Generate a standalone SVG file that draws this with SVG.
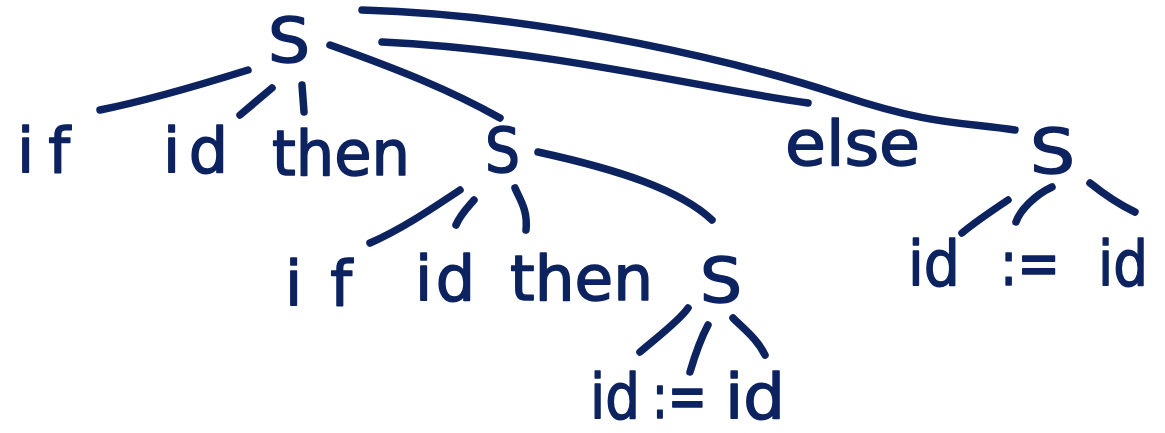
<svg xmlns="http://www.w3.org/2000/svg" width="1165" height="433" viewBox="0 0 1165 433">
<style>
.e{fill:none;stroke:#0d2360;stroke-width:7.5;stroke-linecap:round;stroke-linejoin:round}
.t{font-family:"DejaVu Sans","Liberation Sans",sans-serif;fill:#0d2360;stroke:#0d2360;stroke-width:1.5;stroke-linejoin:round;font-size:62px}
</style>
<rect width="1165" height="433" fill="#fff"/>
<g id="connectors">
<path class="e" d="M100,110 C150,100 200,85 248,70"/>
<path class="e" d="M240,115 L272,88"/>
<path class="e" d="M302,85 L304,112"/>
<path class="e" d="M330,45 C400,70 450,90 500,118"/>
<path class="e" d="M382,42 C550,50 700,88 808,103"/>
<path class="e" d="M362,10 C550,15 750,65 840,95 S960,122 1015,130"/>
<path class="e" d="M370,243 C400,230 430,210 460,190"/>
<path class="e" d="M456,225 C460,215 468,207 474,200"/>
<path class="e" d="M515,188 C520,200 528,210 526,230"/>
<path class="e" d="M538,152 C620,170 680,190 712,220"/>
<path class="e" d="M640,352 C660,335 680,320 688,308"/>
<path class="e" d="M690,372 C695,355 700,340 708,325"/>
<path class="e" d="M733,318 C745,330 758,340 765,355"/>
<path class="e" d="M962,233 C975,222 990,212 1008,200"/>
<path class="e" d="M1016,222 C1020,210 1035,195 1052,187"/>
<path class="e" d="M1090,183 C1105,195 1120,205 1135,212"/>
</g>
<g id="root"><text class="t" x="268" y="62" font-size="66" textLength="42" lengthAdjust="spacingAndGlyphs">S</text></g>
<g id="if1"><text class="t" x="17" y="172" textLength="53" lengthAdjust="spacing">if</text></g>
<g id="id1"><text class="t" x="163" y="172" textLength="65" lengthAdjust="spacing">id</text></g>
<g id="then1"><text class="t" x="272" y="175" textLength="138" lengthAdjust="spacingAndGlyphs">then</text></g>
<g id="s1"><text class="t" x="485" y="172" font-size="50" textLength="35" lengthAdjust="spacingAndGlyphs">S</text></g>
<g id="else"><text class="t" x="785" y="165" textLength="135" lengthAdjust="spacingAndGlyphs">else</text></g>
<g id="s2"><text class="t" x="1030" y="173" font-size="66" textLength="45" lengthAdjust="spacingAndGlyphs">S</text></g>
<g id="if2"><text class="t" x="285" y="305" textLength="67" lengthAdjust="spacing">if</text></g>
<g id="id2"><text class="t" x="415" y="300" textLength="60" lengthAdjust="spacing">id</text></g>
<g id="then2"><text class="t" x="510" y="300" textLength="143" lengthAdjust="spacingAndGlyphs">then</text></g>
<g id="s3"><text class="t" x="700" y="302" font-size="66" textLength="42" lengthAdjust="spacingAndGlyphs">S</text></g>
<g id="assign2"><text class="t" y="285"><tspan x="908" textLength="52" lengthAdjust="spacingAndGlyphs">id</tspan><tspan x="1000" textLength="60" lengthAdjust="spacingAndGlyphs">:=</tspan><tspan x="1098" textLength="50" lengthAdjust="spacingAndGlyphs">id</tspan></text></g>
<g id="assign1"><text class="t" y="418" font-size="58"><tspan x="590" textLength="50" lengthAdjust="spacingAndGlyphs">id</tspan><tspan x="652" textLength="55" lengthAdjust="spacingAndGlyphs">:=</tspan><tspan x="725" textLength="60" lengthAdjust="spacingAndGlyphs">id</tspan></text></g>
</svg>
